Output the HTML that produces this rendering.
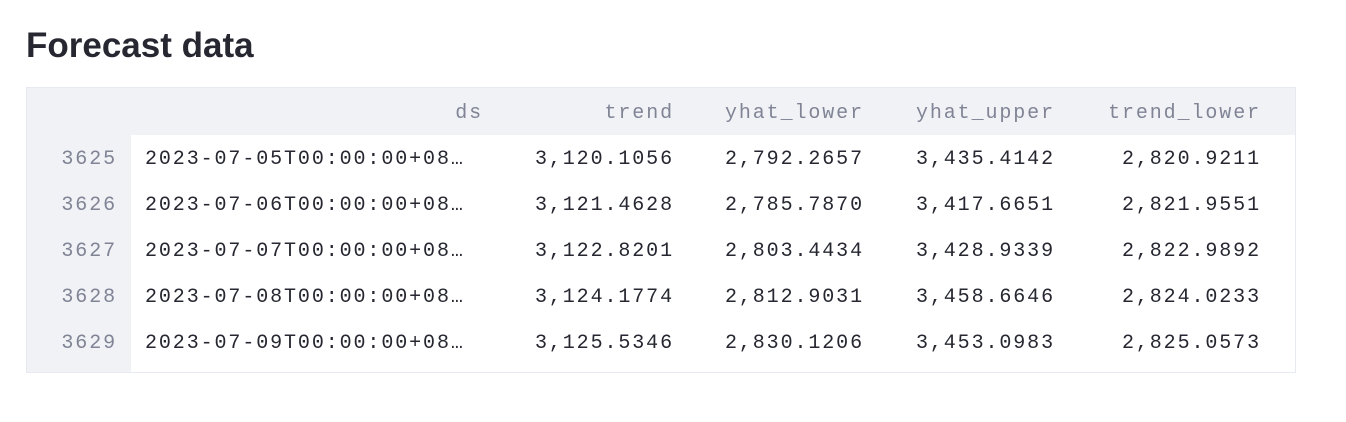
<!DOCTYPE html>
<html><head><meta charset="utf-8">
<style>
body{margin:0;width:1346px;height:422px;background:#fff;overflow:hidden;position:relative;font-family:"Liberation Sans",sans-serif}
h2{position:absolute;left:26px;top:22px;margin:0;font-size:35px;font-weight:bold;color:#262730;line-height:48px}
#tbl{position:absolute;left:26px;top:87px;width:1270px;height:286px;border:1px solid #e6e9ef;background:#fff;box-sizing:border-box}
#hdr{position:absolute;left:0;top:0;width:100%;height:47px;background:#f0f2f6}
#idx{position:absolute;left:0;top:0;width:104px;height:100%;background:#f0f2f6}
.c{position:absolute;font-family:"Liberation Mono",monospace;font-size:20px;letter-spacing:1.9px;white-space:nowrap;line-height:46px;text-align:right}
.h{color:#808495}
.i{color:#808495}
.v{color:#262730}
</style></head><body>
<h2>Forecast data</h2>
<div id="tbl">
<div id="hdr"></div>
<div id="idx"></div>
</div>
<script>
const cols=["ds","trend","yhat_lower","yhat_upper","trend_lower"];
const idx=["3625","3626","3627","3628","3629"];
const ds=["2023-07-05T00:00:00+08…","2023-07-06T00:00:00+08…","2023-07-07T00:00:00+08…","2023-07-08T00:00:00+08…","2023-07-09T00:00:00+08…"];
const trend=["3,120.1056","3,121.4628","3,122.8201","3,124.1774","3,125.5346"];
const yl=["2,792.2657","2,785.7870","2,803.4434","2,812.9031","2,830.1206"];
const yu=["3,435.4142","3,417.6651","3,428.9339","3,458.6646","3,453.0983"];
const tl=["2,820.9211","2,821.9551","2,822.9892","2,824.0233","2,825.0573"];
const rights=[455,646,836,1027,1233];
const data=[ds,trend,yl,yu,tl];
const t=document.getElementById('tbl');
function cell(txt,cls,right,top,left){
 const d=document.createElement('div');
 d.className='c '+cls;d.textContent=txt;
 d.style.top=top+'px';
 if(left!=null){d.style.left=left+'px';d.style.textAlign='left';}
 else d.style.right=(1269-right-2)+'px';
 t.appendChild(d);return d;
}
cols.forEach((c,j)=>{
 const d=cell(c,'h',rights[j],3);
 
 
});
idx.forEach((r,i)=>{
 const top=49+i*46;
 const d=cell(r,'i',89,top);
 
 
 data.forEach((arr,j)=>{
  const e=j===0?cell(arr[i],'v',0,top,118):cell(arr[i],'v',rights[j],top);
  
  
 });
});
</script>
</body></html>
